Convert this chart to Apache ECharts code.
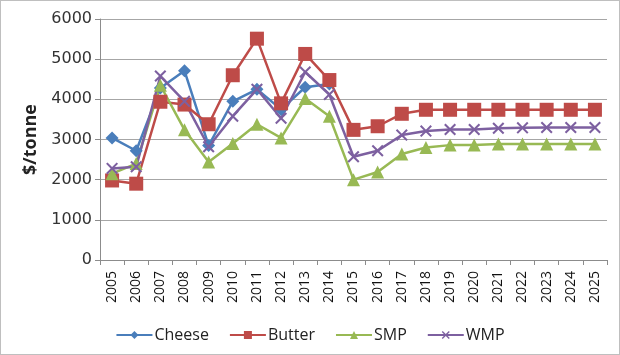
<!DOCTYPE html>
<html><head><meta charset="utf-8">
<script src="https://cdn.jsdelivr.net/npm/echarts@6/dist/echarts.min.js"></script>
<style>
html,body{margin:0;padding:0;background:#fff;}
#c{width:618px;height:353px;border:1px solid #bfbfbf;}
</style></head>
<body><div id="c"></div>
<script>
const years = ['2005','2006','2007','2008','2009','2010','2011','2012','2013','2014','2015','2016','2017','2018','2019','2020','2021','2022','2023','2024','2025'];
const cheese = [3040,2720,4280,4710,2850,3950,4250,3750,4300,4380,null,null,null,null,null,null,null,null,null,null,null];
const butter = [1980,1900,3940,3870,3380,4600,5510,3900,5130,4480,3240,3330,3640,3740,3740,3740,3740,3740,3740,3740,3740];
const smp = [2150,2400,4350,3240,2440,2900,3380,3040,4020,3580,2000,2190,2640,2800,2860,2860,2890,2890,2890,2890,2890];
const wmp = [2280,2320,4580,3950,2820,3580,4250,3530,4680,4120,2570,2720,3110,3210,3250,3250,3280,3290,3300,3300,3300];
const yTicks = [0,1000,2000,3000,4000,5000,6000];

const xSym = 'path://M0,1.2L1.2,0L5,3.8L8.8,0L10,1.2L6.2,5L10,8.8L8.8,10L5,6.2L1.2,10L0,8.8L3.8,5Z';
const font = 'Open Sans, Liberation Sans, sans-serif';
function mk(name, data, color, symbol, size){
  return {name, type:'line', data, symbol, symbolSize:size, showSymbol:true,
    lineStyle:{color, width:2.5}, itemStyle:{color, borderWidth:0}, connectNulls:false};
}
const chart = echarts.init(document.getElementById('c'));
chart.setOption({
  animation:false,
  grid:{left:99, right:12, top:18, bottom:94},
  legend:{top:321, left:'center', itemWidth:36, itemHeight:10, itemGap:20,
    textStyle:{fontFamily:font, fontSize:16, color:'#222', padding:[0,0,0,-3]},
    data:['Cheese','Butter','SMP','WMP']},
  xAxis:{type:'category', data:years, boundaryGap:true,
    axisLine:{lineStyle:{color:'#8c8c8c', width:1}},
    axisTick:{show:true, length:5, lineStyle:{color:'#8c8c8c'}},
    axisLabel:{rotate:90, fontFamily:font, fontSize:14, color:'#111', margin:11}},
  yAxis:{type:'value', min:0, max:6000, interval:1000,
    name:'$/tonne', nameLocation:'middle', nameGap:60, nameRotate:90,
    nameTextStyle:{fontFamily:font, fontSize:18, fontWeight:'bold', color:'#222'},
    axisLine:{show:true, lineStyle:{color:'#8c8c8c'}},
    axisTick:{show:true, length:5, lineStyle:{color:'#8c8c8c'}},
    axisLabel:{fontFamily:'DejaVu Sans, sans-serif', fontSize:16, color:'#333', margin:8,
      formatter:v=>yTicks.includes(v)?String(v):''},
    splitLine:{lineStyle:{color:'#a6a6a6', width:1.2}}},
  series:[
    mk('Cheese', cheese, '#4A7EBB', 'diamond', 13),
    mk('Butter', butter, '#BE4B48', 'rect', 14),
    mk('SMP', smp, '#98B954', 'triangle', 13),
    mk('WMP', wmp, '#7D60A0', xSym, 12)
  ]
});
</script></body></html>
